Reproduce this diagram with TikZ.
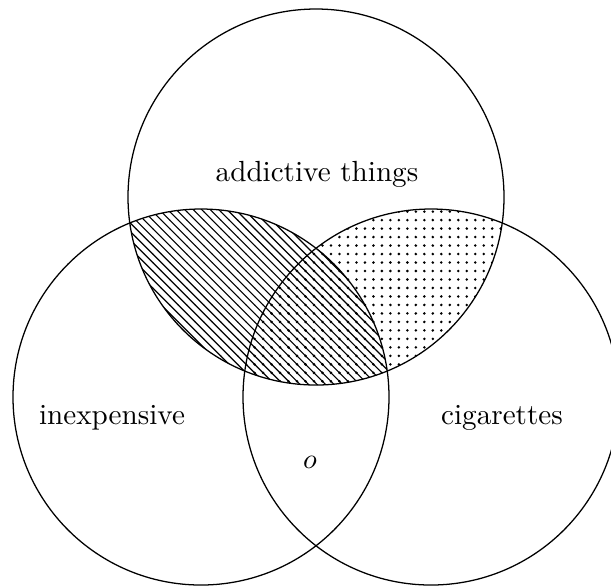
\documentclass[tikz,border=0pt]{standalone}
\usetikzlibrary{patterns}
\begin{document}
\begin{tikzpicture}[x=0.3535pt,y=-0.3535pt,
  setcircle/.style={draw,line width=0.45pt},
  setlabel/.style={inner sep=0pt,font=\fontsize{10.3}{12}\selectfont}]
\useasboundingbox (0,0) rectangle (611,585);
\clip (0,0) rectangle (611,585);
\coordinate (T) at (316,197);
\coordinate (L) at (201,397);
\coordinate (R) at (431,397);
\def\rr{66.46pt}
\begin{scope}
  \clip (T) circle[radius=\rr];
  \fill[pattern=north west lines] (L) circle[radius=\rr];
\end{scope}
\begin{scope}
  \clip (T) circle[radius=\rr];
  \fill[pattern=dots] (R) circle[radius=\rr];
\end{scope}
\draw[setcircle] (T) circle[radius=\rr];
\draw[setcircle] (L) circle[radius=\rr];
\draw[setcircle] (R) circle[radius=\rr];
\node[setlabel] (ta) at (317,174) {addictive things};
\node[setlabel] (la) at (112,418) {inexpensive};
\node[setlabel] (ra) at (502,418) {cigarettes};
\node[setlabel] (oa) at (310,462) {$o$};
\end{tikzpicture}
\end{document}
